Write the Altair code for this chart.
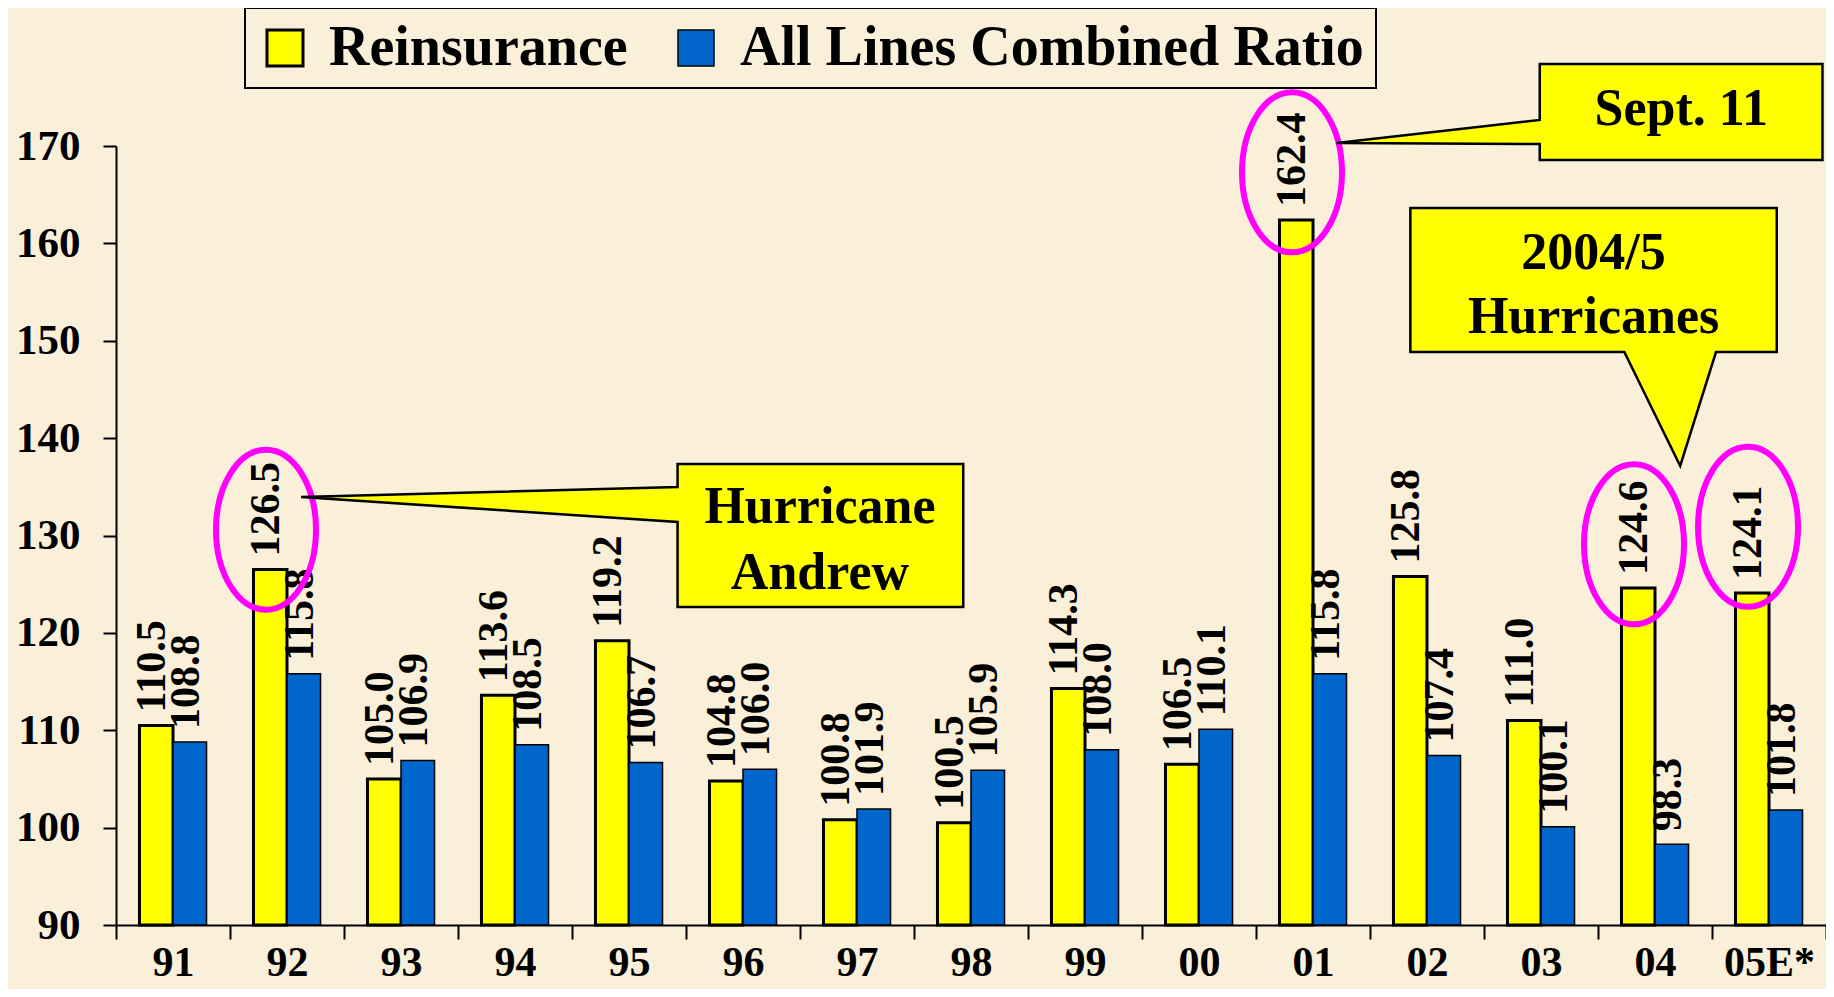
import altair as alt
import pandas as pd

FONT = "Liberation Serif"
BG = "#FAF0DA"

# ---------------- data ----------------
years = ["91", "92", "93", "94", "95", "96", "97", "98", "99", "00", "01", "02", "03", "04", "05E*"]
reinsurance = [110.5, 126.5, 105.0, 113.6, 119.2, 104.8, 100.8, 100.5, 114.3, 106.5, 162.4, 125.8, 111.0, 124.6, 124.1]
all_lines = [108.8, 115.8, 106.9, 108.5, 106.7, 106.0, 101.9, 105.9, 108.0, 110.1, 115.8, 107.4, 100.1, 98.3, 101.8]
series_names = ["Reinsurance", "All Lines Combined Ratio"]
series_colors = ["#FFFF00", "#0066CC"]
y_ticks = [90, 100, 110, 120, 130, 140, 150, 160, 170]

# circled values (year, centre in ratio units)
circle_years = ["92", "01", "04", "05E*"]
circle_centres = [130.6, 167.3, 129.1, 130.9]

# callouts, in (category units 0..15, ratio units)
side_names = ["andrew"] * 4 + ["sept"] * 4
side_u = [1.624, 4.9259, 4.926, 7.432, 10.707, 12.4889, 12.489, 14.969]
side_top = [133.95, 134.98, 137.34, 137.34, 170.31, 172.67, 178.42, 178.42]
side_bot = [133.95, 131.39, 122.66, 122.66, 170.31, 170.21, 168.56, 168.56]

down_v = [137.14, 148.8399, 148.84, 163.63]
down_left = [13.721, 13.231, 11.354, 11.354]
down_right = [13.721, 14.035, 14.568, 14.568]

callout_text = ["Hurricane", "Andrew", "Sept. 11", "2004/5", "Hurricanes"]
callout_text_u = [6.175, 6.175, 13.73, 12.961, 12.961]
callout_text_v = [132.93, 126.15, 173.8, 159.0, 152.44]

# ---------------- tables ----------------
df = pd.DataFrame({
    "year": years * 2,
    "series": [series_names[0]] * len(years) + [series_names[1]] * len(years),
    "value": reinsurance + all_lines,
})
df_circ = pd.DataFrame({"year": circle_years, "v": circle_centres})
df_side = pd.DataFrame({"name": side_names, "u": side_u, "top": side_top, "bot": side_bot})
df_down = pd.DataFrame({"v": down_v, "left": down_left, "right": down_right})
df_txt = pd.DataFrame({"t": callout_text, "u": callout_text_u, "v": callout_text_v})

yscale = alt.Scale(domain=[90, 170], nice=False, zero=False)
uscale = alt.Scale(domain=[0, 15], nice=False, zero=False)
xscale = alt.Scale(paddingInner=0, paddingOuter=0)

x_axis = alt.Axis(
    labelAngle=0, tickBand="extent", labelFont=FONT, labelFontSize=42,
    labelFontWeight="bold", labelColor="black", labelPadding=3, tickSize=14,
    tickWidth=2, tickColor="black", domainColor="black", domainWidth=2, grid=False,
)
y_axis = alt.Axis(
    values=y_ticks, format="d", labelFont=FONT, labelFontSize=43,
    labelFontWeight="bold", labelColor="black", labelPadding=23, tickSize=13,
    tickWidth=2, tickColor="black", domainColor="black", domainWidth=2, grid=False,
)

xoff = alt.XOffset("series:N", sort=series_names,
                    scale=alt.Scale(paddingInner=0, paddingOuter=0.7))

bars = alt.Chart(df).mark_bar(stroke="black", opacity=1).encode(
    x=alt.X("year:N", sort=years, scale=xscale, axis=x_axis, title=None),
    xOffset=xoff,
    y=alt.Y("value:Q", scale=yscale, axis=y_axis, stack=None, title=None),
    y2=alt.datum(90),
    color=alt.Color(
        "series:N", sort=series_names,
        scale=alt.Scale(domain=series_names, range=series_colors),
        legend=alt.Legend(
            orient="none", legendX=129, legendY=-138, direction="horizontal", title=None,
            labelFont=FONT, labelFontSize=56, labelFontWeight="bold", labelColor="black",
            labelLimit=2000, symbolType="square", symbolSize=1296,
            symbolStrokeColor="black", symbolStrokeWidth=3, symbolOpacity=1,
            strokeColor="black", padding=12, columnPadding=40, labelOffset=16,
        ),
    ),
    strokeWidth=alt.StrokeWidth("series:N", scale=alt.Scale(domain=series_names, range=[3, 1.5]), legend=None),
)

labels = alt.Chart(df).mark_text(
    angle=270, align="left", baseline="middle", dx=13, dy=-4,
    font=FONT, fontWeight="bold", fontSize=42, color="black",
).encode(
    x=alt.X("year:N", sort=years, scale=xscale, title=None),
    xOffset=xoff,
    y=alt.Y("value:Q", scale=yscale, stack=None, title=None),
    text=alt.Text("value:Q", format=".1f"),
)

ELLIPSE = ("M 0,-1 C 0.3452,-1 0.625,-0.5523 0.625,0 C 0.625,0.5523 0.3452,1 0,1 "
           "C -0.3452,1 -0.625,0.5523 -0.625,0 C -0.625,-0.5523 -0.3452,-1 0,-1 Z")

circles = alt.Chart(df_circ).mark_point(
    shape=ELLIPSE, size=25600, filled=False, stroke="#FF00FF", strokeWidth=6,
    opacity=1, xOffset=-21,
).encode(
    x=alt.X("year:N", sort=years, scale=xscale, title=None),
    y=alt.Y("v:Q", scale=yscale, title=None),
)

base_layer = alt.layer(bars, labels, circles)

side_callouts = alt.Chart(df_side).mark_area(
    fill="#FFFF00", stroke="black", strokeWidth=2.5, opacity=1,
).encode(
    x=alt.X("u:Q", scale=uscale, axis=None),
    y=alt.Y("top:Q", scale=yscale, stack=None, title=None),
    y2="bot:Q",
    detail="name:N",
)

down_callout = alt.Chart(df_down).mark_area(
    orient="horizontal", fill="#FFFF00", stroke="black", strokeWidth=2.5, opacity=1,
).encode(
    y=alt.Y("v:Q", scale=yscale, title=None),
    x=alt.X("left:Q", scale=uscale, axis=None, stack=None),
    x2="right:Q",
)

callout_texts = alt.Chart(df_txt).mark_text(
    font=FONT, fontWeight="bold", fontSize=52, color="black", align="center", baseline="middle",
).encode(
    x=alt.X("u:Q", scale=uscale, axis=None),
    y=alt.Y("v:Q", scale=yscale, title=None),
    text="t:N",
)

chart = alt.layer(base_layer, side_callouts, down_callout, callout_texts).resolve_scale(
    x="independent"
).properties(
    width=1710, height=779,
    padding={"left": 108, "top": 138, "right": 0, "bottom": 64},
    autosize=alt.AutoSizeParams(type="none"),
    background=BG,
).configure_view(stroke=None).configure_legend(strokeWidth=2)

chart.save("out.html", embed_options={"renderer": "svg", "actions": False})
